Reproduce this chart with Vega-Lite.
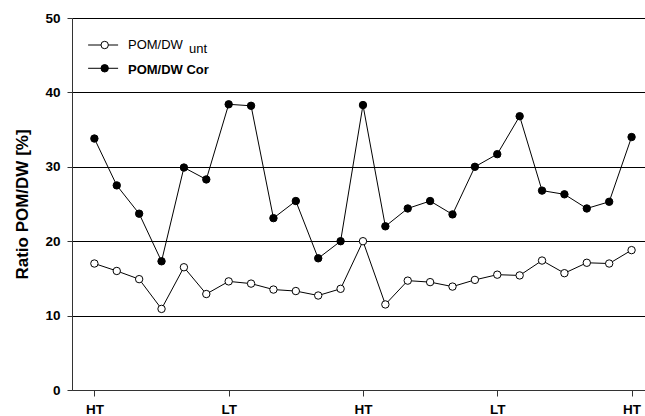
{
  "$schema": "https://vega.github.io/schema/vega-lite/v6.json",
  "autosize": "none",
  "width": 573,
  "height": 372,
  "padding": {"left": 72, "top": 18, "right": 0, "bottom": 26},
  "background": "white",
  "config": {
    "font": "Liberation Sans",
    "view": {"stroke": null},
    "axis": {"labelColor": "#000", "titleColor": "#000", "domainColor": "#333", "tickColor": "#333", "domainWidth": 1, "tickWidth": 1}
  },
  "data": {
    "values": [
      {"i": 0, "unt": 17.0, "cor": 33.8},
      {"i": 1, "unt": 16.0, "cor": 27.5},
      {"i": 2, "unt": 14.9, "cor": 23.7},
      {"i": 3, "unt": 10.9, "cor": 17.3},
      {"i": 4, "unt": 16.5, "cor": 29.9},
      {"i": 5, "unt": 12.9, "cor": 28.3},
      {"i": 6, "unt": 14.6, "cor": 38.4},
      {"i": 7, "unt": 14.3, "cor": 38.2},
      {"i": 8, "unt": 13.5, "cor": 23.1},
      {"i": 9, "unt": 13.3, "cor": 25.4},
      {"i": 10, "unt": 12.7, "cor": 17.7},
      {"i": 11, "unt": 13.6, "cor": 20.0},
      {"i": 12, "unt": 20.0, "cor": 38.3},
      {"i": 13, "unt": 11.5, "cor": 22.0},
      {"i": 14, "unt": 14.7, "cor": 24.4},
      {"i": 15, "unt": 14.5, "cor": 25.4},
      {"i": 16, "unt": 13.9, "cor": 23.6},
      {"i": 17, "unt": 14.8, "cor": 30.0},
      {"i": 18, "unt": 15.5, "cor": 31.7},
      {"i": 19, "unt": 15.4, "cor": 36.8},
      {"i": 20, "unt": 17.4, "cor": 26.8},
      {"i": 21, "unt": 15.7, "cor": 26.3},
      {"i": 22, "unt": 17.1, "cor": 24.4},
      {"i": 23, "unt": 17.0, "cor": 25.3},
      {"i": 24, "unt": 18.8, "cor": 34.0}
    ]
  },
  "layer": [
    {
      "mark": {"type": "line", "color": "#000", "strokeWidth": 1},
      "encoding": {
        "x": {
          "field": "i", "type": "quantitative",
          "scale": {"domain": [-1, 24.6], "nice": false, "zero": false},
          "axis": {
            "title": null, "grid": false, "values": [0, 6, 12, 18, 24],
            "labelExpr": "datum.value % 12 == 0 ? 'HT' : 'LT'",
            "labelFontSize": 13.5, "labelFontWeight": "bold",
            "tickSize": 6, "labelPadding": 6
          }
        },
        "y": {
          "field": "cor", "type": "quantitative",
          "scale": {"domain": [0, 50], "nice": false},
          "axis": {
            "title": "Ratio POM/DW [%]", "titleFontSize": 17, "titleFontWeight": "bold",
            "titleX": -50, "titleBaseline": "middle",
            "values": [0, 10, 20, 30, 40, 50],
            "grid": true, "gridColor": "#000", "gridWidth": 1,
            "labelFontSize": 13.5, "labelFontWeight": "bold",
            "tickSize": 5, "labelPadding": 7
          }
        }
      }
    },
    {
      "mark": {"type": "line", "color": "#000", "strokeWidth": 1},
      "encoding": {
        "x": {"field": "i", "type": "quantitative"},
        "y": {"field": "unt", "type": "quantitative"}
      }
    },
    {
      "mark": {"type": "point", "shape": "circle", "filled": true, "fill": "#000", "stroke": "#000", "strokeWidth": 1, "size": 55, "opacity": 1},
      "encoding": {
        "x": {"field": "i", "type": "quantitative"},
        "y": {"field": "cor", "type": "quantitative"}
      }
    },
    {
      "mark": {"type": "point", "shape": "circle", "filled": true, "fill": "#fff", "stroke": "#000", "strokeWidth": 1, "size": 55, "opacity": 1},
      "encoding": {
        "x": {"field": "i", "type": "quantitative"},
        "y": {"field": "unt", "type": "quantitative"}
      }
    },
    {
      "data": {"values": [{}]},
      "layer": [
        {
          "mark": {"type": "rule", "color": "#000", "strokeWidth": 1},
          "encoding": {"x": {"datum": -0.28}, "x2": {"datum": 1.06}, "y": {"datum": 46.37}}
        },
        {
          "mark": {"type": "rule", "color": "#000", "strokeWidth": 1},
          "encoding": {"x": {"datum": -0.28}, "x2": {"datum": 1.06}, "y": {"datum": 43.24}}
        },
        {
          "mark": {"type": "point", "shape": "circle", "filled": true, "fill": "#fff", "stroke": "#000", "strokeWidth": 1, "size": 55, "opacity": 1},
          "encoding": {"x": {"datum": 0.46}, "y": {"datum": 46.37}}
        },
        {
          "mark": {"type": "point", "shape": "circle", "filled": true, "fill": "#000", "stroke": "#000", "strokeWidth": 1, "size": 55, "opacity": 1},
          "encoding": {"x": {"datum": 0.46}, "y": {"datum": 43.24}}
        },
        {
          "mark": {"type": "text", "align": "left", "baseline": "alphabetic", "fontSize": 13, "color": "#000"},
          "encoding": {"x": {"datum": 1.5}, "y": {"datum": 45.79}, "text": {"value": "POM/DW"}}
        },
        {
          "mark": {"type": "text", "align": "left", "baseline": "alphabetic", "fontSize": 13, "color": "#000"},
          "encoding": {"x": {"datum": 4.23}, "y": {"datum": 45.26}, "text": {"value": "unt"}}
        },
        {
          "mark": {"type": "text", "align": "left", "baseline": "alphabetic", "fontSize": 13, "fontWeight": "bold", "color": "#000"},
          "encoding": {"x": {"datum": 1.5}, "y": {"datum": 42.47}, "text": {"value": "POM/DW Cor"}}
        }
      ]
    }
  ]
}
